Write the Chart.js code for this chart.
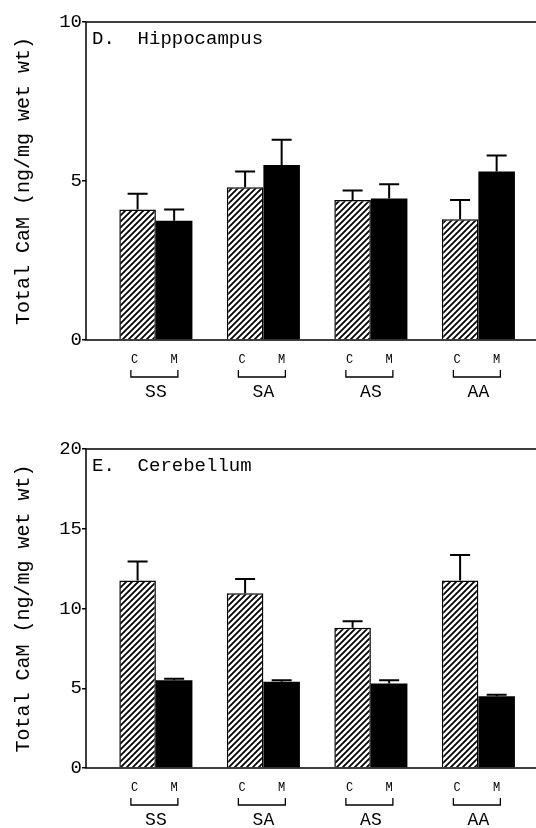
<!DOCTYPE html>
<html>
<head>
<meta charset="utf-8">
<script src="https://cdn.jsdelivr.net/npm/chart.js@4"></script>
<style>
  html, body { margin: 0; padding: 0; background: #fff; overflow: hidden; }
  #wrap { position: relative; width: 536px; height: 828px; overflow: hidden; }
  canvas { position: absolute; left: 0; }
  #hippo { top: 0; }
  #cere { top: 414px; }
</style>
</head>
<body>
<div id="wrap">
  <canvas id="hippo" width="560" height="414"></canvas>
  <canvas id="cere" width="560" height="414"></canvas>
</div>
<script>
// Groups and the two bars in each group
const groups = ['SS', 'SA', 'AS', 'AA'];
const barLabels = ['C', 'M'];

// D. Hippocampus (ng/mg wet wt)
const hippoControl = [4.1, 4.8, 4.4, 3.8];
const hippoControlErr = [0.5, 0.5, 0.3, 0.6];
const hippoMorphine = [3.75, 5.5, 4.45, 5.3];
const hippoMorphineErr = [0.35, 0.8, 0.45, 0.5];
const hippoTicks = [0, 5, 10];

// E. Cerebellum (ng/mg wet wt)
const cereControl = [11.75, 10.95, 8.8, 11.75];
const cereControlErr = [1.2, 0.9, 0.4, 1.6];
const cereMorphine = [5.5, 5.4, 5.3, 4.5];
const cereMorphineErr = [0.1, 0.1, 0.2, 0.1];
const cereTicks = [0, 5, 10, 15, 20];

const MONO = '"Liberation Mono", "DejaVu Sans Mono", monospace';

// Diagonal hatch pattern for the control bars
function makeHatch() {
  const size = 6;
  const c = document.createElement('canvas');
  c.width = size;
  c.height = size;
  const g = c.getContext('2d');
  g.fillStyle = '#fff';
  g.fillRect(0, 0, size, size);
  g.strokeStyle = '#000';
  g.lineWidth = 1.8;
  g.beginPath();
  g.moveTo(-1, size + 1); g.lineTo(size + 1, -1);
  g.moveTo(-1, 1); g.lineTo(1, -1);
  g.moveTo(size - 1, size + 1); g.lineTo(size + 1, size - 1);
  g.stroke();
  return g.createPattern(c, 'repeat');
}

function points(values) {
  return values.map((v, i) => ({ x: i + 1, y: v }));
}

// Error bars (upper only) drawn from the bar elements
const errorBars = {
  id: 'errorBars',
  afterDatasetsDraw(chart, args, opts) {
    const ctx = chart.ctx;
    const yScale = chart.scales.y;
    ctx.save();
    ctx.strokeStyle = '#000';
    ctx.lineWidth = 2;
    chart.data.datasets.forEach((ds, di) => {
      const meta = chart.getDatasetMeta(di);
      meta.data.forEach((bar, i) => {
        const top = yScale.getPixelForValue(ds.data[i].y + ds.errors[i]);
        ctx.beginPath();
        ctx.moveTo(bar.x, bar.y);
        ctx.lineTo(bar.x, top);
        ctx.moveTo(bar.x - 10, top);
        ctx.lineTo(bar.x + 10, top);
        ctx.stroke();
      });
    });
    ctx.restore();
  }
};

// Frame, panel title, C/M labels, brackets and group names
const decorations = {
  id: 'decorations',
  afterDraw(chart, args, opts) {
    const ctx = chart.ctx;
    const area = chart.chartArea;
    const xScale = chart.scales.x;
    ctx.save();
    ctx.strokeStyle = '#000';
    ctx.lineWidth = 1.5;
    ctx.strokeRect(area.left, area.top, area.right - area.left, area.bottom - area.top);

    ctx.fillStyle = '#000';
    ctx.font = '19px ' + MONO;
    ctx.textAlign = 'left';
    ctx.textBaseline = 'middle';
    ctx.fillText(opts.title, area.left + 6, area.top + 17);

    const m0 = chart.getDatasetMeta(0);
    const m1 = chart.getDatasetMeta(1);
    groups.forEach((name, i) => {
      const cx = m0.data[i].x;
      const mx = m1.data[i].x;
      const gx = xScale.getPixelForValue(i + 1);
      ctx.font = '12px ' + MONO;
      ctx.textAlign = 'center';
      ctx.fillText(barLabels[0], cx - 3, area.bottom + 20);
      ctx.fillText(barLabels[1], mx, area.bottom + 20);

      const by = area.bottom + 37;
      ctx.lineWidth = 1.3;
      ctx.beginPath();
      ctx.moveTo(gx - 25, by - 7);
      ctx.lineTo(gx - 25, by);
      ctx.lineTo(gx + 22, by);
      ctx.lineTo(gx + 22, by - 7);
      ctx.stroke();

      ctx.font = '18px ' + MONO;
      ctx.fillText(name, gx, area.bottom + 52);
    });
    ctx.restore();
  }
};

function makeChart(id, title, control, controlErr, morph, morphErr, ticks, padTop, axisHeight) {
  const ctx = document.getElementById(id).getContext('2d');
  return new Chart(ctx, {
    type: 'bar',
    data: {
      datasets: [
        {
          label: barLabels[0],
          data: points(control),
          errors: controlErr,
          backgroundColor: makeHatch(),
          borderColor: '#000',
          borderWidth: 1.5,
          categoryPercentage: 0.68,
          barPercentage: 1
        },
        {
          label: barLabels[1],
          data: points(morph),
          errors: morphErr,
          backgroundColor: '#000',
          borderColor: '#000',
          borderWidth: 0,
          categoryPercentage: 0.68,
          barPercentage: 1
        }
      ]
    },
    options: {
      responsive: false,
      animation: false,
      layout: { padding: { top: padTop, right: 1, left: 0, bottom: 0 } },
      plugins: {
        legend: { display: false },
        tooltip: { enabled: false },
        decorations: { title: title }
      },
      scales: {
        x: {
          type: 'linear',
          min: 0.35,
          max: 4.75,
          offset: false,
          afterBuildTicks(scale) { scale.ticks = groups.map((g, i) => ({ value: i + 1 })); },
          grid: { display: false },
          border: { display: false },
          ticks: { display: false },
          afterFit(scale) { scale.height = axisHeight; }
        },
        y: {
          min: ticks[0],
          max: ticks[ticks.length - 1],
          afterBuildTicks(scale) { scale.ticks = ticks.map(v => ({ value: v })); },
          grid: { drawOnChartArea: false, drawTicks: true, tickLength: 4, color: '#000', lineWidth: 1.5 },
          border: { display: false },
          ticks: {
            color: '#000',
            padding: 0,
            font: { family: MONO, size: 19 }
          },
          title: {
            display: true,
            text: 'Total CaM (ng/mg wet wt)',
            color: '#000',
            padding: { top: 12, bottom: 0 },
            font: { family: MONO, size: 20 }
          },
          afterFit(scale) { scale.width = 86; }
        }
      }
    },
    plugins: [errorBars, decorations]
  });
}

makeChart('hippo', 'D.  Hippocampus', hippoControl, hippoControlErr, hippoMorphine, hippoMorphineErr, hippoTicks, 22, 74);
makeChart('cere', 'E.  Cerebellum', cereControl, cereControlErr, cereMorphine, cereMorphineErr, cereTicks, 35, 60);
</script>
</body>
</html>
